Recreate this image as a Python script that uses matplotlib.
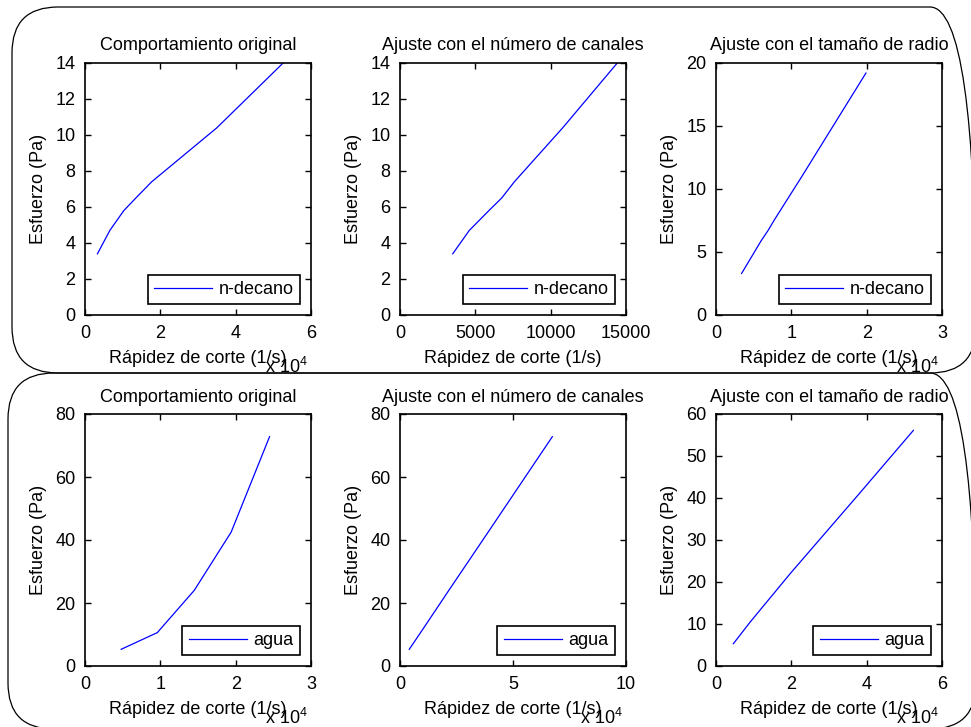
import matplotlib
matplotlib.use("Agg")
import matplotlib.pyplot as plt
from matplotlib.patches import FancyBboxPatch
from matplotlib.ticker import FuncFormatter

plt.rcParams['font.family'] = ['Liberation Sans', 'DejaVu Sans']
plt.rcParams['mathtext.default'] = 'regular'

# n-decano (fila superior)
ndec_rate_orig = [3300, 6600, 10300, 13500, 17700, 35000, 52600]
ndec_stress_orig = [3.4, 4.7, 5.8, 6.5, 7.4, 10.4, 14.0]
ndec_rate_canales = [3500, 4600, 5900, 6750, 7590, 10800, 14420]
ndec_stress_canales = [3.4, 4.7, 5.8, 6.5, 7.4, 10.4, 14.0]
ndec_rate_radio = [3400, 4700, 6000, 6900, 7800, 11400, 19900]
ndec_stress_radio = [3.3, 4.6, 5.9, 6.7, 7.6, 11.0, 19.2]

# agua (fila inferior)
agua_rate_orig = [4800, 9600, 14500, 19400, 24500]
agua_stress_orig = [5.3, 10.6, 24.0, 42.5, 72.8]
agua_rate_canales = [4100, 9100, 21600, 39000, 67400]
agua_stress_canales = [5.3, 10.6, 24.0, 42.5, 72.8]
agua_rate_radio = [4600, 9100, 19700, 38000, 52400]
agua_stress_radio = [5.3, 10.5, 22.0, 41.0, 56.1]

titles = ["Comportamiento original", "Ajuste con el número de canales",
          "Ajuste con el tamaño de radio"]

W, H = 971, 727
fig = plt.figure(figsize=(W / 100, H / 100), dpi=100)

FS = 13

# rounded frames around each row (pixel coords -> figure fraction)
def frame(x0, y0, x1, y1, r):
    p = FancyBboxPatch((x0 / W, 1 - y1 / H), (x1 - x0) / W, (y1 - y0) / H,
                       boxstyle="round,pad=0,rounding_size=%f" % (r / W),
                       mutation_aspect=W / H, transform=fig.transFigure,
                       fill=False, edgecolor='black', linewidth=0.9, clip_on=False)
    fig.add_artist(p)

frame(12, 7, 976, 373, 46)
frame(8, 373, 976, 729, 46)

lefts = [85, 400, 716]
tops = [63, 414]

panels = [
    (0, 0, ndec_rate_orig, ndec_stress_orig, "n-decano", 6e4, [0, 2e4, 4e4, 6e4], 14, range(0, 15, 2), True),
    (0, 1, ndec_rate_canales, ndec_stress_canales, "n-decano", 15000, [0, 5000, 10000, 15000], 14, range(0, 15, 2), False),
    (0, 2, ndec_rate_radio, ndec_stress_radio, "n-decano", 3e4, [0, 1e4, 2e4, 3e4], 20, range(0, 21, 5), True),
    (1, 0, agua_rate_orig, agua_stress_orig, "agua", 3e4, [0, 1e4, 2e4, 3e4], 80, range(0, 81, 20), True),
    (1, 1, agua_rate_canales, agua_stress_canales, "agua", 1e5, [0, 5e4, 1e5], 80, range(0, 81, 20), True),
    (1, 2, agua_rate_radio, agua_stress_radio, "agua", 6e4, [0, 2e4, 4e4, 6e4], 60, range(0, 61, 10), True),
]

for row, col, x, y, name, xmax, xt, ymax, yt, sci in panels:
    ax = fig.add_axes([lefts[col] / W, 1 - (tops[row] + 252) / H, 226 / W, 252 / H])
    ax.plot(x, y, color='blue', linewidth=0.9, label=name)
    ax.set_xlim(0, xmax)
    ax.set_ylim(0, ymax)
    ax.set_xticks(xt)
    ax.set_yticks(list(yt))
    if sci:
        ax.xaxis.set_major_formatter(FuncFormatter(lambda v, p: '%g' % (v / 1e4)))
        ax.text(0.89, -0.205, r'x 10$^{4}$', transform=ax.transAxes,
                ha='center', va='center', fontsize=FS)
    else:
        ax.xaxis.set_major_formatter(FuncFormatter(lambda v, p: '%g' % v))
    ax.tick_params(direction='in', top=True, right=True, length=4, width=1,
                   labelsize=FS, pad=7)
    for s in ax.spines.values():
        s.set_linewidth(1.2)
    ax.set_title(titles[col], fontsize=FS, pad=9)
    ax.set_xlabel("Rápidez de corte (1/s)", fontsize=FS, labelpad=6)
    ax.set_ylabel("Esfuerzo (Pa)", fontsize=FS, labelpad=6)
    leg = ax.legend(loc='lower right', fontsize=FS, fancybox=False,
                    framealpha=1, edgecolor='black', handlelength=3.2,
                    handletextpad=0.4, borderpad=0.35, borderaxespad=0.6)
    leg.get_frame().set_linewidth(1.2)

fig.savefig("out.png", dpi=100)
